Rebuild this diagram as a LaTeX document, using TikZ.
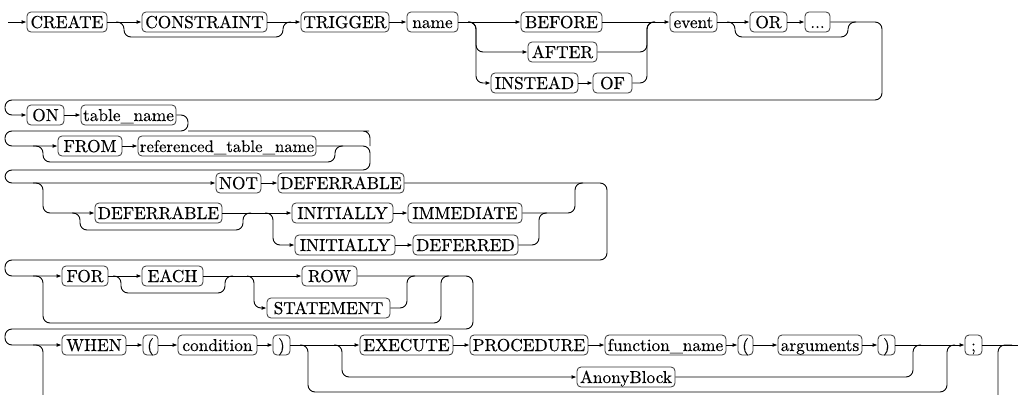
\documentclass[tikz,border=0pt]{standalone}
\usepackage{fontspec}
\newfontfamily\railfont{lmroman10-regular.otf}[FakeBold=0.3]
\usetikzlibrary{arrows.meta}

\tikzset{
  kw/.style={draw=black!80, line width=0.8pt, rounded corners=4pt, fill=white,
    minimum height=20pt, inner xsep=2pt, inner ysep=0pt, text height=12pt,
    text depth=0pt, font=\railfont\fontsize{17.3}{18}\selectfont},
  rail/.style={draw=black, line width=0.9pt, rounded corners=7pt},
  into/.style={-{Latex[length=5pt,width=4pt]}},
}

\begin{document}
\begin{tikzpicture}[x=1pt, y=-1pt]
\useasboundingbox (0,0) rectangle (1018,394);

% Row 1
\coordinate (start) at (8,22);
\node[kw, minimum width=80] (create) at (67,22) {CREATE};
\node[kw, minimum width=125] (constraint) at (204.5,22) {CONSTRAINT};
\node[kw, minimum width=88] (trigger) at (345,22) {TRIGGER};
\node[kw, minimum width=51] (name) at (432.5,22) {name};
\node[kw, minimum width=81] (before) at (561.5,22) {BEFORE};
\node[kw, minimum width=69] (after) at (562.5,52) {AFTER};
\node[kw, minimum width=87] (instead) at (534.5,83) {INSTEAD};
\node[kw, minimum width=39] (of) at (612.5,83) {OF};
\node[kw, minimum width=47] (event) at (693.5,22) {event};
\node[kw, minimum width=37] (or) at (768.5,22) {OR};
\node[kw, minimum width=25] (dots) at (817.5,22) {...};

\draw[rail, into] (start) -- (create);
\draw[rail, into] (create) -- (constraint);
\draw[rail, into] (constraint) -- (trigger);
\draw[rail] (116,22) -| (124,37) -| (283,22) -- (291,22);
\draw[rail, into] (trigger) -- (name);
\draw[rail, into] (name) -- (before);
\draw[rail, into] (468,22) -| (476,52) -- (after.west);
\draw[rail, into] (468,22) -| (476,83) -- (instead.west);
\draw[rail, into] (instead) -- (of);
\draw[rail] (after.east) -| (647,22) -- (655,22);
\draw[rail] (of.east) -| (647,22) -- (655,22);
\draw[rail, into] (before) -- (event);
\draw[rail, into] (event) -- (or);
\draw[rail, into] (or) -- (dots);
\draw[rail] (727,22) -| (735,37) -| (848,22) -- (856,22);

% Row 2
\node[kw, minimum width=37] (on) at (45.5,115) {ON};
\node[kw, minimum width=95] (tablename) at (128.5,115) {table\_name};

\draw[rail, into] (dots.east) -| (882,100) -| (5,115) -- (on.west);
\draw[rail, into] (on) -- (tablename);

% Row 3
\node[kw, minimum width=64] (from) at (90,146) {FROM};
\node[kw, minimum width=170, font=\railfont\fontsize{16.7}{18}\selectfont] (reftable) at (227,146) {referenced\_table\_name};

\draw[rail, into] (tablename.east) -| (188,131) -| (5,146) -- (from.west);
\draw[rail] (188,131) -- (362,131) -| (370,146);
\draw[rail, into] (from) -- (reftable);
\draw[rail] (33,146) -| (43,162) -| (335,146) -- (343,146);

% Row 4
\node[kw, minimum width=45] (not) at (238.5,183) {NOT};
\node[kw, minimum width=126] (deferrable) at (341,183) {DEFERRABLE};
\node[kw, minimum width=127] (deferrabletwo) at (158.5,213) {DEFERRABLE};
\node[kw, minimum width=101] (initially) at (342.5,213) {INITIALLY};
\node[kw, minimum width=114] (immediate) at (465,213) {IMMEDIATE};
\node[kw, minimum width=100] (initiallytwo) at (345,245) {INITIALLY};
\node[kw, minimum width=105] (deferred) at (465.5,245) {DEFERRED};

\draw[rail, into] (reftable.east) -| (370,170) -| (5,183) -- (not.west);
\draw[rail, into] (not) -- (deferrable);
\draw[rail, into] (33,183) -| (43,213) -- (deferrabletwo.west);
\draw[rail] (72,213) -| (80,230) -| (243,213) -- (251,213);
\draw[rail, into] (deferrabletwo) -- (initially);
\draw[rail, into] (265,213) -| (273,245) -- (initiallytwo.west);
\draw[rail, into] (initially) -- (immediate);
\draw[rail, into] (initiallytwo) -- (deferred);
\draw[rail] (deferred.east) -| (539,213) -- (547,213);
\draw[rail] (immediate.east) -| (575,183) -- (583,183);

% Row 5
\node[kw, minimum width=46] (for) at (85,276) {FOR};
\node[kw, minimum width=61] (each) at (172.5,276) {EACH};
\node[kw, minimum width=55] (row) at (329.5,276) {ROW};
\node[kw, minimum width=123] (statement) at (328.5,308) {STATEMENT};

\draw[rail, into] (deferrable.east) -| (607,260) -| (5,276) -- (for.west);
\draw[rail, into] (for) -- (each);
\draw[rail] (113,276) -| (121,293) -| (225,276) -- (233,276);
\draw[rail, into] (each) -- (row);
\draw[rail, into] (247,276) -| (254,308) -- (statement.west);
\draw[rail] (statement.east) -| (407,276) -- (415,276);
\draw[rail] (33,276) -| (43,323) -| (441,276) -- (449,276);

% Row 6
\node[kw, minimum width=64] (when) at (94,345) {WHEN};
\node[kw, minimum width=15] (lparen) at (150.5,345) {(};
\node[kw, minimum width=79] (condition) at (217.5,345) {condition};
\node[kw, minimum width=17] (rparen) at (281.5,345) {)};
\node[kw, minimum width=93] (execute) at (406.5,345) {EXECUTE};
\node[kw, minimum width=118] (procedure) at (529,345) {PROCEDURE};
\node[kw, minimum width=121] (funcname) at (665.5,345) {function\_name};
\node[kw, minimum width=15] (lparentwo) at (745.5,345) {(};
\node[kw, minimum width=84] (arguments) at (820,345) {arguments};
\node[kw, minimum width=17] (rparentwo) at (886.5,345) {)};
\node[kw, minimum width=17] (semicolon) at (973.5,345) {;};
\node[kw, minimum width=98] (anony) at (626,377) {AnonyBlock};
\coordinate (finish) at (1018,345);

\draw[rail, into] (row.east) -| (473,329) -| (5,345) -- (when.west);
\draw[rail] (33,345) -| (43,396);
\draw[rail, into] (when) -- (lparen);
\draw[rail, into] (lparen) -- (condition);
\draw[rail, into] (condition) -- (rparen);
\draw[rail, into] (rparen) -- (execute);
\draw[rail, into] (execute) -- (procedure);
\draw[rail, into] (procedure) -- (funcname);
\draw[rail, into] (funcname) -- (lparentwo);
\draw[rail, into] (lparentwo) -- (arguments);
\draw[rail, into] (arguments) -- (rparentwo);
\draw[rail, into] (rparentwo) -- (semicolon);
\draw[rail] (semicolon) -- (finish);
\draw[rail, into] (334,345) -| (342,377) -- (anony.west);
\draw[rail] (anony.east) -| (913,345) -- (921,345);
\draw[rail] (300,345) -| (308,392) -| (947,345) -- (955,345);
\draw[rail] (998,396) |- (1012,345);

\end{tikzpicture}
\end{document}
